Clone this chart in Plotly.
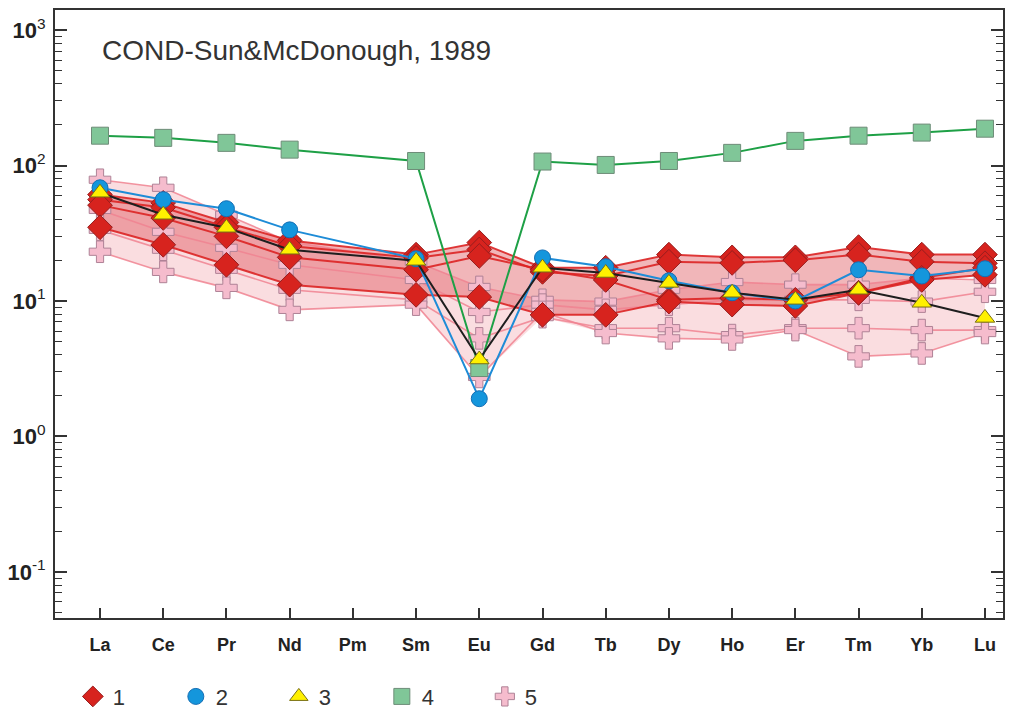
import plotly.graph_objects as go

elements = ["La", "Ce", "Pr", "Nd", "Pm", "Sm", "Eu", "Gd", "Tb", "Dy", "Ho", "Er", "Tm", "Yb", "Lu"]

# Group 1 (red diamonds) samples
g1_a = [61, 53, 38, 28, None, 22, 27, 17.6, 17.6, 22, 21, 21, 25, 22, 22]
g1_b = [56, 49, 35, 25.5, None, 20.8, 24, 16.4, 15.3, 19.5, 19.1, 20, 22, 19.5, 19]
g1_c = [51, 41, 30, 21, None, 17, 21.5, 17, 14.3, 10.2, 10.5, 10.2, 11.5, 14.8, 17.6]
g1_d = [35, 26, 18.5, 13.2, None, 11.1, 10.7, 7.9, 7.9, 9.9, 9.4, 9.2, 11.5, 14.3, 15.6]

# Sample 2 (blue circles)
s2 = [68.5, 56, 48, 33.5, None, 20.5, 1.9, 20.8, 17.9, 14.1, 11.5, 10, 17, 15.3, 17.3]
# Sample 3 (yellow triangles)
s3 = [63, 43.3, 34.7, 23.9, None, 19.8, 3.7, 17.6, 16.1, 13.6, 11.5, 10.2, 12.1, 9.7, 7.5]
# Sample 4 (green squares)
s4 = [166, 160, 147, 131, None, 108, 3.2, 107, 101, 108, 124, 152, 166, 175, 187]

# Group 5 (pink crosses) samples
g5_a = [78.5, 68.5, 43.3, 27.3, None, 19.5, 12.7, 10.2, 9.9, 12.1, 13.8, 13.2, 13.2, 14.8, 14.3]
g5_b = [47, 32.4, 24.7, 18.5, None, 14.3, 8.3, 9.4, 8.6, 9.4, 10.2, 10.2, 10.2, 9.9, 11.7]
g5_c = [33.5, 23.9, 17, 12.1, None, 10.2, 5.3, 7.6, 6.3, 6.3, 5.6, 6.3, 6.3, 6.1, 6.1]
g5_d = [23.1, 16.4, 12.5, 8.6, None, 9.4, 2.75, 8.3, 5.8, 5.3, 5.2, 6.1, 3.9, 4.1, 5.8]

legend_names = ["1", "2", "3", "4", "5"]
y_tick_vals = [0.1, 1, 10, 100, 1000]
y_tick_text = ["<b>10</b><sup>-1</sup>", "<b>10</b><sup>0</sup>", "<b>10</b><sup>1</sup>",
               "<b>10</b><sup>2</sup>", "<b>10</b><sup>3</sup>"]

group1 = [g1_a, g1_b, g1_c, g1_d]
group5 = [g5_a, g5_b, g5_c, g5_d]


def valid(vals):
    xs, ys = [], []
    for e, v in zip(elements, vals):
        if v is not None:
            xs.append(e)
            ys.append(v)
    return xs, ys


def envelope(group):
    xs, lo, hi = [], [], []
    for i, e in enumerate(elements):
        col = [s[i] for s in group if s[i] is not None]
        if col:
            xs.append(e)
            lo.append(min(col))
            hi.append(max(col))
    return xs, lo, hi


fig = go.Figure()

# Envelopes
for group, fc in [(group5, "rgba(240,150,160,0.32)"), (group1, "rgba(215,45,55,0.35)")]:
    xs, lo, hi = envelope(group)
    fig.add_trace(go.Scatter(x=xs, y=hi, mode="lines", line=dict(width=0),
                             showlegend=False, hoverinfo="skip"))
    fig.add_trace(go.Scatter(x=xs, y=lo, mode="lines", line=dict(width=0),
                             fill="tonexty", fillcolor=fc, showlegend=False, hoverinfo="skip"))

pink_marker = dict(symbol="cross", size=18, color="rgb(245,188,205)",
                   line=dict(color="rgb(175,130,150)", width=1))
red_marker = dict(symbol="diamond", size=19, color="rgb(215,35,30)",
                  line=dict(color="rgb(150,30,30)", width=1))
blue_marker = dict(symbol="circle", size=16, color="rgb(20,150,220)",
                   line=dict(color="rgb(20,110,180)", width=1))
yellow_marker = dict(symbol="triangle-up", size=17, color="rgb(255,240,0)",
                     line=dict(color="rgb(120,110,20)", width=1))
green_marker = dict(symbol="square", size=17, color="rgb(128,198,152)",
                    line=dict(color="rgb(110,140,120)", width=1))

for s in group5:
    xs, ys = valid(s)
    fig.add_trace(go.Scatter(x=xs, y=ys, mode="lines+markers",
                             line=dict(color="rgba(240,130,145,0.85)", width=1.6),
                             marker=pink_marker, showlegend=False))
for s in group1:
    xs, ys = valid(s)
    fig.add_trace(go.Scatter(x=xs, y=ys, mode="lines+markers",
                             line=dict(color="rgba(220,35,35,0.9)", width=2),
                             marker=red_marker, showlegend=False))

for s, lc, mk in [(s4, "rgb(30,160,70)", green_marker),
                  (s2, "rgb(30,140,215)", blue_marker),
                  (s3, "rgb(30,30,30)", yellow_marker)]:
    xs, ys = valid(s)
    fig.add_trace(go.Scatter(x=xs, y=ys, mode="lines+markers",
                             line=dict(color=lc, width=2), marker=mk, showlegend=False))

# Legend entries (marker only)
for name, mk in zip(legend_names, [red_marker, blue_marker, yellow_marker, green_marker, pink_marker]):
    fig.add_trace(go.Scatter(x=[None], y=[None], mode="markers", marker=mk, name=name,
                             showlegend=True))

fig.add_annotation(text="COND-Sun&McDonough, 1989", xref="paper", yref="paper",
                   x=0.047, y=0.934, xanchor="left", yanchor="middle", showarrow=False,
                   font=dict(family="Liberation Sans, Arial", size=28, color="#333333"))

minor_vals = [m * 10 ** k for k in range(-2, 4) for m in range(2, 10)]

# The page body has an 8px default margin, so the figure is sized to fit the window.
fig.update_layout(
    width=1013, height=707, autosize=False,
    margin=dict(l=47, r=18, t=2, b=97, autoexpand=False),
    plot_bgcolor="white", paper_bgcolor="white",
    font=dict(family="Liberation Sans, Arial", color="#222222"),
    legend=dict(orientation="h", xref="container", yref="container",
                x=0.064, y=0.026, xanchor="left", yanchor="middle",
                traceorder="normal",
                font=dict(size=22, color="#333333"), entrywidth=58, entrywidthmode="pixels",
                itemsizing="trace", bgcolor="rgba(0,0,0,0)"),
    xaxis=dict(type="category", categoryorder="array", categoryarray=elements,
               range=[-0.712, 14.285], showgrid=False, zeroline=False, automargin=False,
               showline=True, linecolor="#333333", linewidth=2, mirror=True,
               ticks="inside", ticklen=10, tickwidth=1.5, tickcolor="#333333",
               tickfont=dict(size=18, family="Liberation Sans, Arial", color="#222222"),
               tickprefix="<b>", ticksuffix="</b>", ticklabelstandoff=9),
    yaxis=dict(type="log", range=[-1.34, 3.148], showgrid=False, zeroline=False, automargin=False,
               showline=True, linecolor="#333333", linewidth=2, mirror="ticks",
               ticks="inside", ticklen=12, tickwidth=1.5, tickcolor="#333333",
               tickmode="array", tickvals=y_tick_vals, ticktext=y_tick_text,
               tickfont=dict(size=22, family="Liberation Sans, Arial", color="#222222"),
               ticklabelstandoff=3,
               minor=dict(ticks="inside", ticklen=7, tickwidth=1.3, tickcolor="#333333",
                          tickmode="array", tickvals=minor_vals, showgrid=False)),
)

fig.write_html("out.html")
